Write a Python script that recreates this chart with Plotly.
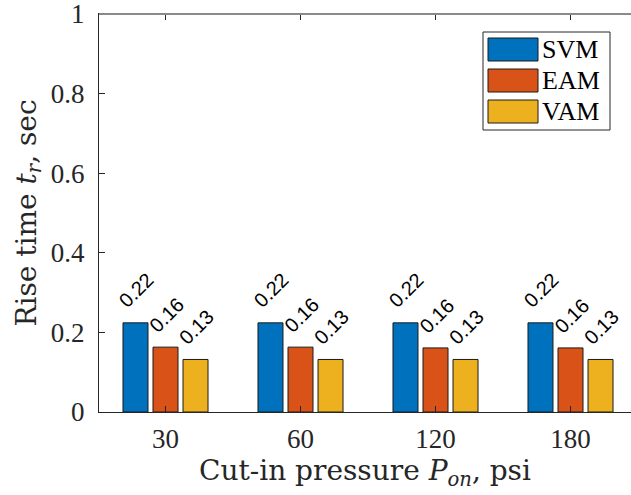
import plotly.graph_objects as go

categories = ["30", "60", "120", "180"]
series_names = ["SVM", "EAM", "VAM"]
svm = [0.224, 0.224, 0.224, 0.224]
eam = [0.163, 0.163, 0.161, 0.161]
vam = [0.132, 0.132, 0.132, 0.132]
series_values = [svm, eam, vam]
colors = ["#0072BD", "#D95319", "#EDB120"]
y_ticks = [0, 0.2, 0.4, 0.6, 0.8, 1]
y_tick_labels = ["0", "0.2", "0.4", "0.6", "0.8", "1"]

BARGAP = 0.333
NSER = len(series_names)
slot = (1 - BARGAP) / NSER

fig = go.Figure()
for name, vals, col in zip(series_names, series_values, colors):
    fig.add_trace(go.Bar(
        x=categories, y=vals, name=name,
        marker=dict(color=col, line=dict(color="#1a1a1a", width=1)),
        showlegend=False,
    ))

annotations = []
for s, vals in enumerate(series_values):
    off = (s - (NSER - 1) / 2) * slot
    for i, v in enumerate(vals):
        annotations.append(dict(
            x=i + off, y=v, xref="x", yref="y",
            text=f"{v:.2f}", showarrow=False, textangle=-45,
            xanchor="center", yanchor="bottom", yshift=8, xshift=1,
            font=dict(family="Liberation Sans, Arial", size=20, color="#000"),
        ))

# legend (manual, MATLAB style)
lg_x0, lg_x1 = 483, 610
lg_y0, lg_y1 = 32, 130
W, H = 631, 495
ML, MR, MT, MB = 99, 0, 14, 83
pw, ph = W - ML - MR, H - MT - MB

def px(x):
    return (x - ML) / pw

def py(y):
    return (H - MB - y) / ph

shapes = [dict(type="rect", xref="paper", yref="paper",
               x0=px(lg_x0), x1=px(lg_x1), y0=py(lg_y1), y1=py(lg_y0),
               line=dict(color="#262626", width=1), fillcolor="white", layer="above")]
for k, (name, col) in enumerate(zip(series_names, colors)):
    top = 38 + k * 31
    shapes.append(dict(type="rect", xref="paper", yref="paper",
                       x0=px(488), x1=px(538), y0=py(top + 23), y1=py(top),
                       line=dict(color="#1a1a1a", width=1), fillcolor=col, layer="above"))
    annotations.append(dict(x=px(540), y=py(top + 11.5), xref="paper", yref="paper",
                            text=name, showarrow=False, xanchor="left", yanchor="middle",
                            font=dict(family="Liberation Serif, Times New Roman", size=26, color="#000")))

# top border (grey)
shapes.append(dict(type="line", xref="paper", yref="paper", x0=0, x1=1, y0=1, y1=1,
                   line=dict(color="#8a8a8a", width=2), layer="above"))

TITLE_FONT = "DejaVu Serif"
fig.update_layout(
    width=W, height=H,
    margin=dict(l=ML, r=MR, t=MT, b=MB, pad=0),
    paper_bgcolor="white", plot_bgcolor="white",
    barmode="group", bargap=BARGAP, bargroupgap=0.167,
    font=dict(family="Liberation Serif, Times New Roman", color="#262626"),
    annotations=annotations, shapes=shapes,
    xaxis=dict(
        type="category", range=[-0.4926, 3.4481],
        showline=True, linecolor="#262626", linewidth=1, mirror="ticks",
        ticks="inside", ticklen=6, tickcolor="#262626", tickwidth=1,
        tickfont=dict(size=27, color="#262626"), ticklabelstandoff=3,
        showgrid=False, zeroline=False,
        title=dict(text="Cut-in pressure <i>P</i><sub><i>on</i></sub>, psi",
                   font=dict(family=TITLE_FONT, size=28, color="#262626"), standoff=2),
    ),
    yaxis=dict(
        range=[0, 1], tickvals=y_ticks, ticktext=y_tick_labels,
        showline=True, linecolor="#262626", linewidth=1,
        ticks="inside", ticklen=6, tickcolor="#262626", tickwidth=1,
        tickfont=dict(size=27, color="#262626"), ticklabelstandoff=8,
        ticklabeloverflow="allow",
        showgrid=False, zeroline=False,
        title=dict(text="Rise time <i>t</i><sub><i>r</i></sub>, sec",
                   font=dict(family=TITLE_FONT, size=28, color="#262626"), standoff=6),
    ),
)

fig.write_html("out.html")
